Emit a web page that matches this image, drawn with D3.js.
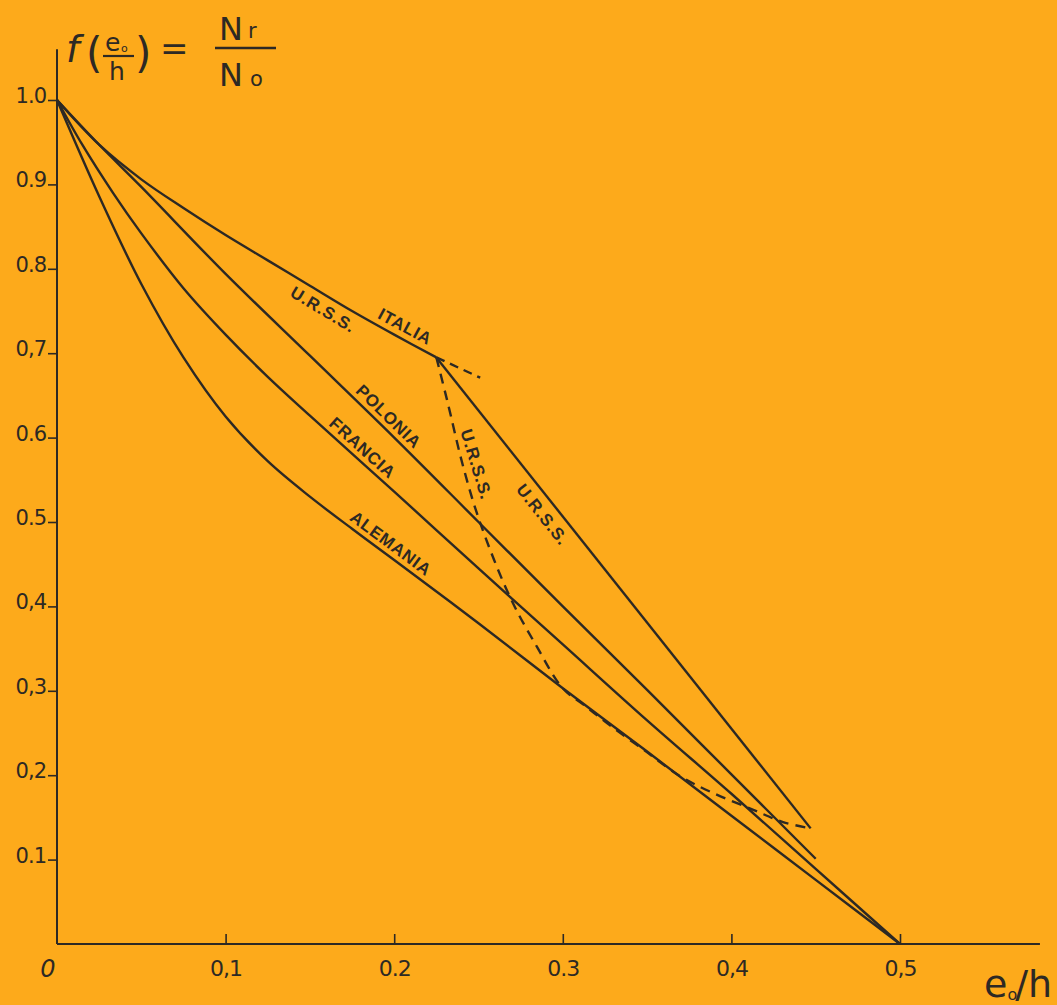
<!DOCTYPE html>
<html><head><meta charset="utf-8">
<script src="https://cdn.jsdelivr.net/npm/d3@7"></script>
<style>
body{margin:0;background:#FDAA1B;}
svg{display:block;}
</style>
</head><body>
<svg id="chart" width="1057" height="1005"></svg>
<script>
// ---------- data ----------
const xTicks = [0, 0.1, 0.2, 0.3, 0.4, 0.5];
const xTickLabels = ["0", "0,1", "0.2", "0.3", "0,4", "0,5"];
const yTicks = [0.1, 0.2, 0.3, 0.4, 0.5, 0.6, 0.7, 0.8, 0.9, 1.0];
const yTickLabels = ["0.1", "0,2", "0,3", "0,4", "0.5", "0.6", "0,7", "0.8", "0.9", "1.0"];

// ITALIA / U.R.S.S. common branch up to the break point
const italia = [[0,1],[0.025,0.947],[0.05,0.906],[0.075,0.872],[0.1,0.84],[0.125,0.81],[0.15,0.78],[0.175,0.75],[0.2,0.722],[0.225,0.695]];
// short dashed prolongation of ITALIA
const italiaExt = [[0.225,0.695],[0.251,0.671]];
// U.R.S.S. solid straight branch
const urssSolid = [[0.225,0.695],[0.447,0.137]];
// U.R.S.S. dashed branch
const urssDashed = [[0.225,0.695],[0.2313,0.645],[0.241,0.565],[0.251,0.499],[0.2687,0.411],[0.2847,0.352],[0.3,0.303],[0.314,0.281],[0.328,0.259],[0.348,0.23],[0.3695,0.199],[0.389,0.179],[0.413,0.159],[0.4306,0.1445],[0.447,0.137]];
const polonia = [[0,1],[0.025,0.947],[0.05,0.897],[0.1,0.794],[0.15,0.697],[0.2,0.6],[0.25,0.5],[0.3,0.4],[0.35,0.301],[0.4,0.201],[0.45,0.101]];
const francia = [[0,1],[0.015,0.947],[0.0332,0.89],[0.05,0.842],[0.075,0.777],[0.1,0.722],[0.125,0.672],[0.15,0.626],[0.2,0.536],[0.25,0.445],[0.3,0.355],[0.35,0.265],[0.4,0.178],[0.45,0.089],[0.5,0]];
const alemania = [[0,1],[0.025,0.886],[0.05,0.782],[0.075,0.695],[0.1,0.625],[0.125,0.572],[0.15,0.53],[0.175,0.492],[0.2,0.455],[0.25,0.38],[0.3,0.303],[0.35,0.228],[0.4,0.152],[0.45,0.076],[0.5,0]];

const labelTexts = ["U.R.S.S.", "ITALIA", "POLONIA", "FRANCIA", "ALEMANIA", "U.R.S.S.", "U.R.S.S."];

// ---------- drawing ----------
const ink = "#2d2924";
const svg = d3.select("#chart");
svg.append("rect").attr("width",1057).attr("height",1005).attr("fill","#FDAA1B");

const x = d3.scaleLinear().domain([0, 0.5]).range([57, 900]);
const y = d3.scaleLinear().domain([0, 1]).range([944, 100]);

// axes lines
svg.append("line").attr("x1", x(0)).attr("x2", x(0)).attr("y1", y(0)).attr("y2", y(1.06))
  .attr("stroke", ink).attr("stroke-width", 2);
svg.append("line").attr("x1", x(0)).attr("x2", x(0.583)).attr("y1", y(0)).attr("y2", y(0))
  .attr("stroke", ink).attr("stroke-width", 2.2);

const tickFont = "'DejaVu Sans', sans-serif";

const yAxis = d3.axisLeft(y).tickValues(yTicks).tickFormat((d,i)=>yTickLabels[i]).tickSize(9).tickPadding(2);
const gy = svg.append("g").attr("transform", `translate(${x(0)},0)`).call(yAxis);
gy.select(".domain").remove();
gy.selectAll(".tick line").attr("stroke", ink).attr("stroke-width", 1.6);
gy.selectAll(".tick text").attr("fill", ink).attr("font-family", tickFont).attr("font-size", 21)
  .attr("letter-spacing", -1).attr("dy", "0.12em");

const xAxis = d3.axisBottom(x).tickValues(xTicks).tickFormat((d,i)=>xTickLabels[i]).tickSizeInner(-10).tickSizeOuter(0).tickPadding(16);
const gx = svg.append("g").attr("transform", `translate(0,${y(0)})`).call(xAxis);
gx.select(".domain").remove();
gx.selectAll(".tick line").attr("stroke", ink).attr("stroke-width", 1.6);
gx.selectAll(".tick text").attr("fill", ink).attr("font-family", tickFont).attr("font-size", 22).attr("letter-spacing", -1);
gx.selectAll(".tick").filter(d=>d===0).select("text").attr("dx", -10).attr("font-style","italic").attr("font-size",24);
gx.selectAll(".tick").filter(d=>d===0).select("line").remove();

// curves
const smooth = d3.line().x(d=>x(d[0])).y(d=>y(d[1])).curve(d3.curveCatmullRom.alpha(0.5));
const straight = d3.line().x(d=>x(d[0])).y(d=>y(d[1]));

const curves = [
  {data: italia, gen: smooth, dash: null},
  {data: italiaExt, gen: straight, dash: "9,6"},
  {data: urssSolid, gen: straight, dash: null},
  {data: urssDashed, gen: smooth, dash: "10,7"},
  {data: polonia, gen: smooth, dash: null},
  {data: francia, gen: smooth, dash: null},
  {data: alemania, gen: smooth, dash: null}
];
svg.append("g").selectAll("path").data(curves).join("path")
  .attr("d", c=>c.gen(c.data))
  .attr("fill", "none").attr("stroke", ink).attr("stroke-width", 2.4)
  .attr("stroke-linejoin", "round")
  .attr("stroke-dasharray", c=>c.dash);

// labels placed along their curves
function pointAt(series, xv){
  const pts = series.map(d=>[x(d[0]), y(d[1])]);
  const px = x(xv);
  let i = 0;
  while (i < pts.length-2 && pts[i+1][0] < px) i++;
  const a = pts[i], b = pts[i+1];
  const t = (px - a[0])/(b[0]-a[0]);
  return {x: a[0] + t*(b[0]-a[0]), y: a[1] + t*(b[1]-a[1]), ang: Math.atan2(b[1]-a[1], b[0]-a[0])};
}
const labelLayout = [
  {series: italia, at: 0.162, off: -14},
  {series: italia, at: 0.203, off: 12},
  {series: polonia, at: 0.192, off: 11},
  {series: francia, at: 0.1767, off: 11},
  {series: alemania, at: 0.194, off: 11},
  {series: urssDashed, at: 0.2412, off: 13},
  {series: urssSolid, at: 0.2948, off: -15}
];
const lbl = svg.append("g");
labelLayout.forEach((L, i)=>{
  const p = pointAt(L.series, L.at);
  const cx = p.x + L.off*Math.sin(p.ang);
  const cy = p.y - L.off*Math.cos(p.ang);
  lbl.append("text")
    .attr("transform", `translate(${cx},${cy}) rotate(${p.ang*180/Math.PI})`)
    .attr("text-anchor","middle").attr("dominant-baseline","central")
    .attr("font-family","'Liberation Sans', Arial, sans-serif").attr("font-weight","bold")
    .attr("font-size",17).attr("letter-spacing",0.8).attr("fill",ink)
    .text(labelTexts[i]);
});

// title f(e0/h) = Nr/No
const title = svg.append("g").attr("fill", ink).attr("font-family", tickFont);
title.append("text").attr("x",66).attr("y",62).attr("font-size",38).attr("font-style","italic").text("f");
title.append("text").attr("x",86).attr("y",68).attr("font-size",42).text("(");
title.append("text").attr("x",105).attr("y",51).attr("font-size",25).text("e");
title.append("text").attr("x",121).attr("y",52).attr("font-size",11).text("o");
title.append("line").attr("x1",103).attr("x2",134).attr("y1",56).attr("y2",56).attr("stroke",ink).attr("stroke-width",2.2);
title.append("text").attr("x",109).attr("y",80).attr("font-size",25).text("h");
title.append("text").attr("x",135).attr("y",68).attr("font-size",42).text(")");
title.append("text").attr("x",160).attr("y",60).attr("font-size",34).text("=");
title.append("text").attr("x",219).attr("y",40).attr("font-size",32).text("N");
title.append("text").attr("x",248).attr("y",38).attr("font-size",21).text("r");
title.append("line").attr("x1",215).attr("x2",276).attr("y1",48).attr("y2",48).attr("stroke",ink).attr("stroke-width",2.4);
title.append("text").attr("x",219).attr("y",86).attr("font-size",32).text("N");
title.append("text").attr("x",250).attr("y",86).attr("font-size",21).text("o");

// x-axis title e0/h (single text to keep it inside the picture)
const xt = svg.append("text").attr("fill", ink).attr("font-family", tickFont)
  .attr("x", 984).attr("y", 997).attr("font-size", 38);
xt.append("tspan").text("e");
xt.append("tspan").attr("font-size", 16).attr("dy", 3).text("o");
xt.append("tspan").attr("dy", -3).attr("dx", -2).text("/h");
</script>
</body></html>
